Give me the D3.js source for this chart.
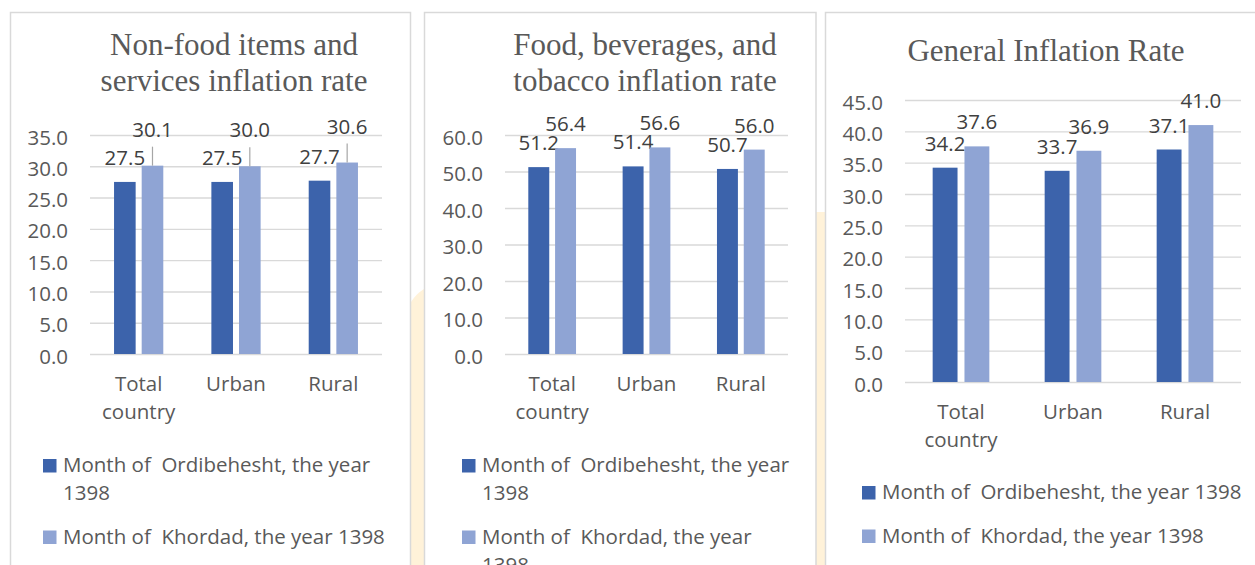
<!DOCTYPE html>
<html>
<head>
<meta charset="utf-8">
<script src="https://cdn.jsdelivr.net/npm/d3@7"></script>
<style>
  html, body { margin: 0; padding: 0; background: #ffffff; }
  svg { display: block; }
  text { white-space: pre; }
</style>
</head>
<body>
<svg id="chart" width="1255" height="565"></svg>
<script>
// ---------------- DATA ----------------
const categories = ["Total country", "Urban", "Rural"];
const seriesNames = ["Month of  Ordibehesht, the year 1398", "Month of  Khordad, the year 1398"];

const nonFoodTitle = ["Non-food items and", "services inflation rate"];
const nonFoodOrdibehesht = [27.5, 27.5, 27.7];
const nonFoodKhordad = [30.1, 30.0, 30.6];
const nonFoodTicks = [0, 5, 10, 15, 20, 25, 30, 35];

const foodTitle = ["Food, beverages, and", "tobacco inflation rate"];
const foodOrdibehesht = [51.2, 51.4, 50.7];
const foodKhordad = [56.4, 56.6, 56.0];
const foodTicks = [0, 10, 20, 30, 40, 50, 60];

const generalTitle = ["General Inflation Rate"];
const generalOrdibehesht = [34.2, 33.7, 37.1];
const generalKhordad = [37.6, 36.9, 41.0];
const generalTicks = [0, 5, 10, 15, 20, 25, 30, 35, 40, 45];

// ---------------- STYLE / LAYOUT ----------------
const colors = ["#3C63AB", "#8FA4D4"];
const gridColor = "#D9D9D9";
const axisTextColor = "#595959";
const labelTextColor = "#404040";
const sansFont = "'Open Sans', 'Noto Sans', sans-serif";
const serifFont = "'Liberation Serif', 'Times New Roman', serif";
const fontSize = 20.5;

const panels = [
  { title: nonFoodTitle, titleSize: 31, titleX: 234, titleY: 55, titleLH: 35.5,
    values: [nonFoodOrdibehesht, nonFoodKhordad], ticks: nonFoodTicks,
    x0: 90, x1: 382, yTop: 135, yBase: 354,
    legendX: 43, legendY: 472, legendWrap: 335, lightOffset: 29, leader: true,
    box: [10.5, 12.5, 400, 620] },
  { title: foodTitle, titleSize: 31, titleX: 645, titleY: 55, titleLH: 36,
    values: [foodOrdibehesht, foodKhordad], ticks: foodTicks,
    x0: 505, x1: 788, yTop: 135, yBase: 354,
    legendX: 462, legendY: 472, legendWrap: 314, lightOffset: 17, leader: false,
    box: [424.5, 12.5, 391.5, 620] },
  { title: generalTitle, titleSize: 31, titleX: 1046, titleY: 61, titleLH: 36,
    values: [generalOrdibehesht, generalKhordad], ticks: generalTicks,
    x0: 905, x1: 1241, yTop: 100, yBase: 382,
    legendX: 862, legendY: 499, legendWrap: 1000, lightOffset: 17, leader: false,
    box: [825.5, 12.5, 500, 620] }
];

const svg = d3.select("#chart");

// cream background strips between panels
svg.append("path")
  .attr("d", "M411,302 Q416,294 424,289 L424,565 L411,565 Z")
  .attr("fill", "#FFF2D9");
svg.append("rect")
  .attr("x", 816).attr("y", 212).attr("width", 9).attr("height", 360)
  .attr("fill", "#FFF2D9");

function wrapWords(textSel, str, maxW, x, lineH) {
  const words = str.split(" ");
  let lines = [];
  let cur = "";
  const probe = textSel.append("tspan").attr("x", x);
  words.forEach((w) => {
    const cand = cur === "" ? w : cur + " " + w;
    probe.text(cand);
    if (probe.node().getComputedTextLength() > maxW && cur !== "") {
      lines.push(cur);
      cur = w;
    } else {
      cur = cand;
    }
  });
  lines.push(cur);
  probe.remove();
  lines.forEach((l, i) => {
    textSel.append("tspan").attr("x", x).attr("dy", i === 0 ? 0 : lineH).text(l);
  });
  return lines.length;
}

panels.forEach(p => {
  const g = svg.append("g");

  // panel frame
  g.append("rect")
    .attr("x", p.box[0]).attr("y", p.box[1])
    .attr("width", p.box[2]).attr("height", p.box[3])
    .attr("fill", "none").attr("stroke", gridColor).attr("stroke-width", 1.5);

  // title
  const t = g.append("text")
    .attr("x", p.titleX).attr("y", p.titleY)
    .attr("text-anchor", "middle")
    .attr("font-family", serifFont).attr("font-size", p.titleSize)
    .attr("fill", axisTextColor);
  p.title.forEach((line, i) => {
    t.append("tspan").attr("x", p.titleX).attr("dy", i === 0 ? 0 : p.titleLH).text(line);
  });

  const maxTick = p.ticks[p.ticks.length - 1];
  const y = d3.scaleLinear().domain([0, maxTick]).range([p.yBase, p.yTop]);
  const x = d3.scaleBand().domain(categories).range([p.x0, p.x1]).paddingInner(0).paddingOuter(0);
  const bw = x.bandwidth();
  const barW = bw * 0.222;
  const gap = bw * 0.062;

  // y axis with gridlines
  const yAxis = d3.axisLeft(y)
    .tickValues(p.ticks)
    .tickFormat(d3.format(".1f"))
    .tickSize(-(p.x1 - p.x0))
    .tickPadding(22);
  const ya = g.append("g").attr("transform", `translate(${p.x0},0)`).call(yAxis);
  ya.select(".domain").remove();
  ya.selectAll(".tick line").attr("stroke", gridColor).attr("stroke-width", 1.4);
  ya.selectAll(".tick text")
    .attr("dy", 9)
    .attr("font-family", sansFont).attr("font-size", fontSize)
    .attr("fill", axisTextColor);

  // x axis
  const xAxis = d3.axisBottom(x).tickSize(0).tickPadding(0);
  const xa = g.append("g").attr("transform", `translate(0,${p.yBase})`).call(xAxis);
  xa.select(".domain").remove();
  xa.selectAll(".tick text").each(function(d) {
    const el = d3.select(this);
    el.text(null).attr("dy", null).attr("y", 37)
      .attr("font-family", sansFont).attr("font-size", fontSize)
      .attr("fill", axisTextColor);
    wrapWords(el, d, bw - 4, 0, 28);
  });

  // bars
  p.values.forEach((vals, si) => {
    const rows = categories.map((c, i) => ({ c, v: vals[i] }));
    const bx = d => x(d.c) + (bw - 2 * barW - gap) / 2 + si * (barW + gap);
    g.selectAll(null).data(rows).enter().append("rect")
      .attr("x", bx)
      .attr("y", d => y(d.v))
      .attr("width", barW)
      .attr("height", d => y(0) - y(d.v))
      .attr("fill", colors[si]);

    const off = si === 0 ? 17 : p.lightOffset;
    if (si === 1 && p.leader) {
      g.selectAll(null).data(rows).enter().append("line")
        .attr("x1", d => bx(d) + barW / 2).attr("x2", d => bx(d) + barW / 2)
        .attr("y1", d => y(d.v) - off + 10).attr("y2", d => y(d.v))
        .attr("stroke", "#A6A6A6").attr("stroke-width", 1.2);
    }
    g.selectAll(null).data(rows).enter().append("text")
      .attr("x", d => bx(d) + barW / 2)
      .attr("y", d => y(d.v) - off)
      .attr("text-anchor", "middle")
      .attr("font-family", sansFont).attr("font-size", fontSize)
      .attr("fill", labelTextColor)
      .text(d => d3.format(".1f")(d.v));
  });

  // legend
  let ly = p.legendY;
  seriesNames.forEach((name, si) => {
    g.append("rect")
      .attr("x", p.legendX).attr("y", ly - 13)
      .attr("width", 13.5).attr("height", 13.5)
      .attr("fill", colors[si]);
    const lt = g.append("text")
      .attr("x", p.legendX + 20).attr("y", ly)
      .attr("font-family", sansFont).attr("font-size", fontSize)
      .attr("fill", axisTextColor);
    const n = wrapWords(lt, name, p.legendWrap, p.legendX + 20, 28);
    ly += n * 28 + 15.5;
  });
});
</script>
</body>
</html>
